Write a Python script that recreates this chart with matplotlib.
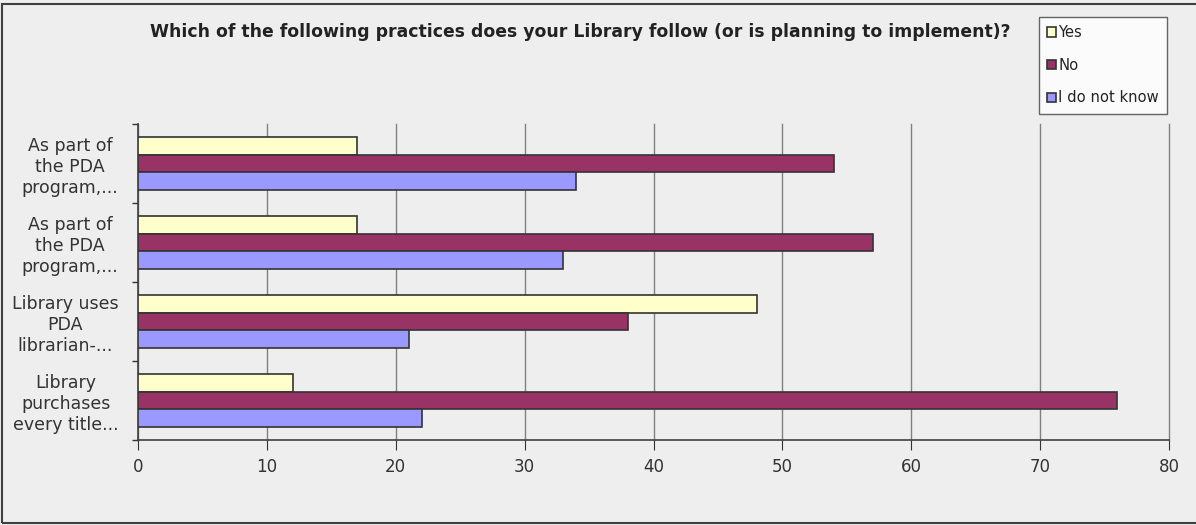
import matplotlib.pyplot as plt
import numpy as np
from matplotlib.patches import Rectangle

# categories from top to bottom
categories = ["As part of\nthe PDA\nprogram,...",
              "As part of\nthe PDA\nprogram,...",
              "Library uses\nPDA\nlibrarian-...",
              "Library\npurchases\nevery title..."]
series = ["Yes", "No", "I do not know"]
yes = [17, 17, 48, 12]
no = [54, 57, 38, 76]
dont_know = [34, 33, 21, 22]
colors = ["#FFFFCC", "#993366", "#9999FF"]

bg = "#EEEEEE"
fig = plt.figure(figsize=(11.96, 5.25), dpi=100, facecolor=bg)
ax = fig.add_axes([138/1196, 1-440/525, (1169-138)/1196, (440-124)/525])
ax.set_facecolor(bg)

# outer chart frame
fig.patches.append(Rectangle((2/1196, 2/525), 1.2, 1-6/525, transform=fig.transFigure,
                             fill=False, edgecolor="#404040", linewidth=1.5, zorder=0))

y = np.arange(len(categories))
h = 0.222
for i, (vals, name) in enumerate(zip([yes, no, dont_know], series)):
    ax.barh(y + (i-1)*h, vals, height=h, color=colors[i], edgecolor="#333333",
            linewidth=1.2, label=name, zorder=3)

ax.set_ylim(len(categories)-0.5, -0.5)
ax.set_xlim(0, 80)
ax.set_xticks(np.arange(0, 81, 10))
ax.set_yticks(y)
ax.set_yticklabels(categories, multialignment="center", fontsize=12.5, color="#333333",
                   linespacing=1.2)
ax.set_yticks(np.arange(-0.5, len(categories)), minor=True)
ax.tick_params(axis="y", which="major", length=0, pad=14)
ax.tick_params(axis="y", which="minor", length=4, color="#333333", width=1)
ax.tick_params(axis="x", length=7, color="#333333", labelsize=12, labelcolor="#333333", pad=6)

ax.grid(axis="x", color="#808080", linewidth=1, zorder=0)
for gl in ax.get_xgridlines():
    gl.set_clip_on(False)
for s in ["top", "right"]:
    ax.spines[s].set_visible(False)
for s in ["left", "bottom"]:
    ax.spines[s].set_color("#404040")
    ax.spines[s].set_linewidth(1.2)

fig.text(580/1196, 1-32/525, "Which of the following practices does your Library follow (or is planning to implement)?",
         ha="center", va="center", fontsize=12.4, fontweight="bold", color="#222222")

leg = fig.legend(loc="upper left", bbox_to_anchor=(1039/1196, 1-17/525), fontsize=10.6,
                 frameon=True, fancybox=False, handlelength=0.6, handleheight=0.6,
                 handletextpad=0.15, labelspacing=1.2, borderpad=0.55, borderaxespad=0)
leg.get_frame().set_edgecolor("#404040")
leg.get_frame().set_linewidth(1)
for t in leg.get_texts():
    t.set_color("#222222")

plt.savefig("out.png", dpi=100, facecolor=bg)
